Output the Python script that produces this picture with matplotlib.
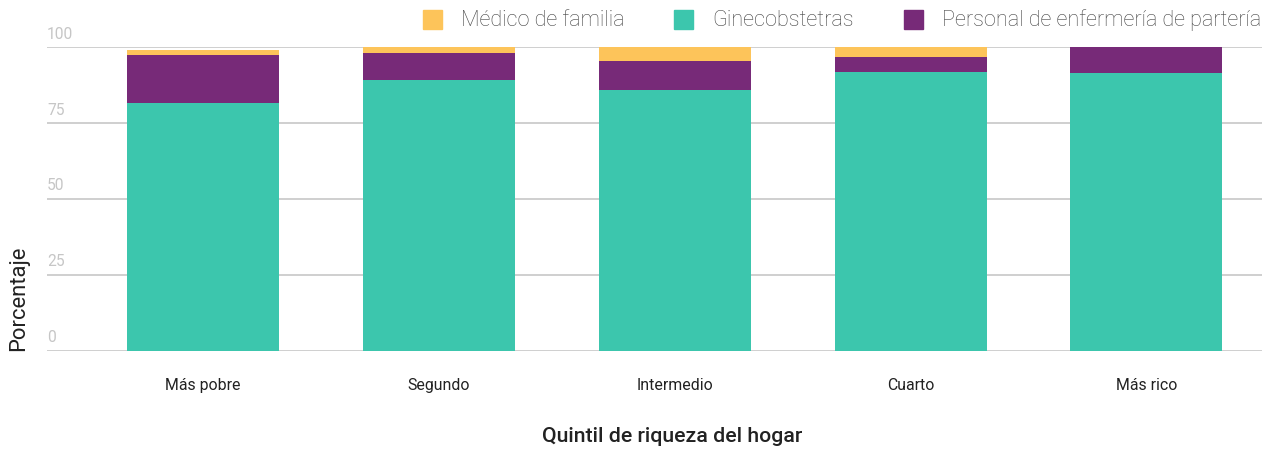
import numpy as np
import matplotlib
matplotlib.use('Agg')
import matplotlib.pyplot as plt
from matplotlib.patches import Rectangle

# Data
quintiles = ['Más pobre', 'Segundo', 'Intermedio', 'Cuarto', 'Más rico']
ginecobstetras = [81.7, 89.3, 86.0, 91.9, 91.6]
enfermeria = [15.8, 8.9, 9.5, 5.0, 8.4]
medico_familia = [1.7, 1.8, 4.5, 3.1, 0.0]
yticks = [0, 25, 50, 75, 100]

series_names = ['Médico de familia', 'Ginecobstetras', 'Personal de enfermería de partería']
c_yellow = '#FDC45A'
c_green = '#3CC6AD'
c_purple = '#772A78'

plt.rcParams['font.family'] = ['Roboto', 'DejaVu Sans']

W, H = 1271, 451
fig = plt.figure(figsize=(W / 100, H / 100), dpi=100)
ax = fig.add_axes([47 / W, (H - 350.5) / H, (1262 - 47) / W, 303 / H])

x = np.arange(len(quintiles))
bw = 0.645
g = np.array(ginecobstetras)
p = np.array(enfermeria)
m = np.array(medico_familia)
ax.bar(x, g, bw, color=c_green, zorder=2)
ax.bar(x, p, bw, bottom=g, color=c_purple, zorder=2)
ax.bar(x, m, bw, bottom=g + p, color=c_yellow, zorder=2)

ax.set_xlim(-0.662, 4.49)
ax.set_ylim(0, 100)
for s in ax.spines.values():
    s.set_visible(False)
ax.set_yticks([])
for v in yticks:
    ax.axhline(v, color='#cccccc', lw=1.3, zorder=1)
    ax.annotate(str(v), xy=(0, v), xycoords=ax.get_yaxis_transform(),
                xytext=(0, 4), textcoords='offset points',
                ha='left', va='bottom', fontsize=11.2, color='#c6c6c6')

ax.set_xticks(x)
ax.set_xticklabels(quintiles, fontsize=11.4, color='#222222')
ax.tick_params(axis='x', length=0, pad=20)

fig.text(672 / W, 1 - 437 / H, 'Quintil de riqueza del hogar', ha='center', va='center',
         fontsize=15.3, fontweight='medium', color='#222222')
fig.text(8 / W, 1 - 351 / H, 'Porcentaje', rotation=90, ha='left', va='bottom',
         fontsize=15.8, color='#222222')

# legend
leg = [(423, 461, series_names[0], c_yellow),
       (674, 712, series_names[1], c_green),
       (904, 942, series_names[2], c_purple)]
for sx, tx, name, col in leg:
    fig.add_artist(Rectangle((sx / W, 1 - 29 / H), 19 / W, 19 / H,
                             transform=fig.transFigure, color=col))
    fig.text(tx / W, 1 - 20 / H, name, ha='left', va='center',
             fontsize=15.6, fontweight='light', color='#444444')

fig.savefig('out.png', dpi=100)
